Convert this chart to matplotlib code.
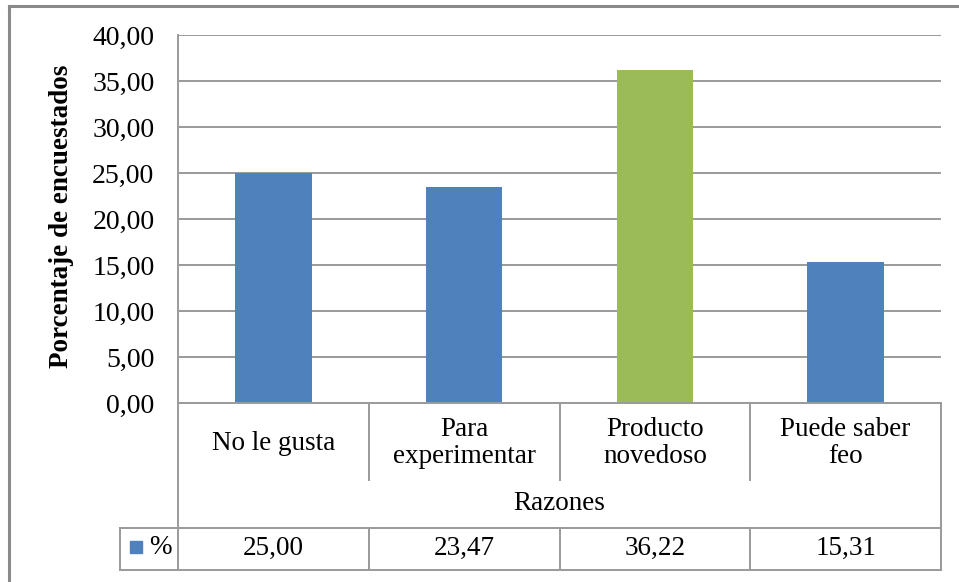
import numpy as np
import matplotlib.pyplot as plt
from matplotlib.ticker import FuncFormatter
from matplotlib.transforms import blended_transform_factory

plt.rcParams['font.family'] = ['Liberation Serif', 'DejaVu Serif']

razones = ['No le gusta', 'Para\nexperimentar', 'Producto\nnovedoso', 'Puede saber\nfeo']
porcentaje = [25.00, 23.47, 36.22, 15.31]
colores = ['#4F81BD', '#4F81BD', '#9BBB59', '#4F81BD']
serie = '%'

W, H = 959, 582
fig = plt.figure(figsize=(W / 100, H / 100), dpi=100)

# plot area in pixels: left, top, right, bottom
L, T, R, B = 178, 35, 941, 403
ax = fig.add_axes([L / W, 1 - B / H, (R - L) / W, (B - T) / H])

x = np.arange(len(razones))
ax.bar(x, porcentaje, width=0.4, color=colores, zorder=3)
ax.set_xlim(-0.5, len(razones) - 0.5)
ax.set_ylim(0, 40)
ax.set_yticks(np.arange(0, 41, 5))
ax.yaxis.set_major_formatter(FuncFormatter(lambda v, p: f'{v:.2f}'.replace('.', ',')))
ax.tick_params(axis='y', length=0, pad=17, labelsize=20)
ax.set_xticks([])
ax.yaxis.grid(True, color='#9a9a9a', linewidth=1.4, zorder=0)
for s in ax.spines.values():
    s.set_visible(False)

fig.text(61 / W, 1 - 216 / H, 'Porcentaje de encuestados', rotation=90,
         ha='center', va='center', fontsize=19.5, fontweight='bold')

# data table under the axis: x in data units, y in figure pixels from top
tr = blended_transform_factory(ax.transData, fig.transFigure)


def py(v):
    return 1 - v / H


lc = dict(color='#9a9a9a', linewidth=1.4, transform=tr, clip_on=False, zorder=4)
x0, x1 = -0.5, len(razones) - 0.5
px_per_unit = (R - L) / len(razones)
xkey = x0 - (L - 120) / px_per_unit

ax.plot([x0, x0], [py(T), py(570)], **lc)
ax.plot([x1, x1], [py(403), py(570)], **lc)
ax.plot([x0, x1], [py(403), py(403)], **lc)
ax.plot([xkey, x1], [py(528), py(528)], **lc)
ax.plot([xkey, x1], [py(570), py(570)], **lc)
ax.plot([xkey, xkey], [py(528), py(570)], **lc)
for b in np.arange(x0 + 1, x1, 1):
    ax.plot([b, b], [py(403), py(480)], **lc)
    ax.plot([b, b], [py(528), py(570)], **lc)

for i, (r, v) in enumerate(zip(razones, porcentaje)):
    ax.text(i, py(443), r, transform=tr, ha='center', va='center',
            fontsize=19.5, linespacing=1.12)
    ax.text(i, py(548), f'{v:.2f}'.replace('.', ','), transform=tr,
            ha='center', va='center', fontsize=19.5)

ax.text((x0 + x1) / 2, py(504), 'Razones', transform=tr, ha='center',
        va='center', fontsize=19.5)

# legend key in the first cell of the value row
fig.patches.append(plt.Rectangle((130 / W, py(553)), 12 / W, 12 / H,
                                 color='#4F81BD', transform=fig.transFigure))
fig.text(160 / W, py(547), serie, ha='center', va='center', fontsize=19.5)

# outer chart border
fig.add_artist(plt.Line2D([9 / W, 9 / W], [py(6), 0], color='#8a8a8a', linewidth=2.2))
fig.add_artist(plt.Line2D([9 / W, 1], [py(6), py(6)], color='#8a8a8a', linewidth=2.2))

fig.savefig('out.png', dpi=100)
